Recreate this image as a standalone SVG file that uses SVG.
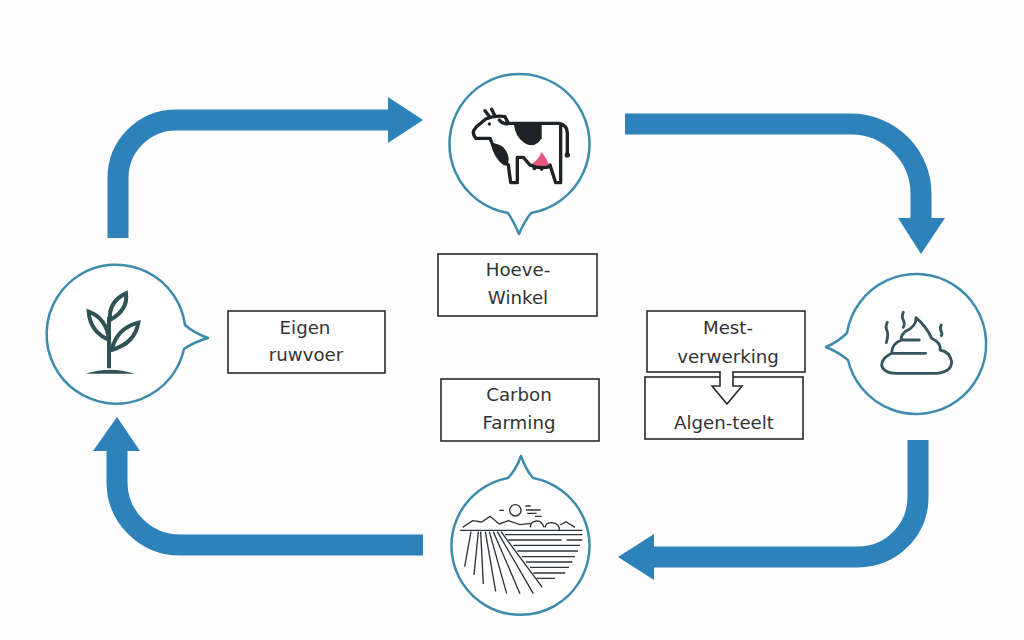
<svg xmlns="http://www.w3.org/2000/svg" width="1024" height="640" viewBox="0 0 1024 640">
<style>
.flow{fill:none;stroke:#2d82ba;stroke-width:21}
.head{fill:#2d82ba}
.bubble{fill:#fff;stroke:#3d8cab;stroke-width:2.5;stroke-linejoin:round}
.box{fill:#fff;stroke:#2a2a2a;stroke-width:1.6}
.t{font-family:"DejaVu Sans",Verdana,sans-serif;font-size:18.2px;fill:#333;text-anchor:middle}
.ink{fill:none;stroke:#1d2226;stroke-width:10;stroke-linejoin:round;stroke-linecap:round}
.line{fill:none;stroke:#2d3338;stroke-width:4;stroke-linecap:butt}
.plant{fill:none;stroke:#2f5355;stroke-width:12;stroke-linejoin:miter}
.poop{fill:none;stroke:#34565c;stroke-width:8.5;stroke-linecap:round;stroke-linejoin:round}
</style>
<rect width="1024" height="640" fill="#fdfdfd"/>
<g id="connectors">
<path class="flow" d="M118,238V178A58,58 0 0 1 176,120H390"/>
<polygon class="head" points="388,97 423,120 388,143"/>
<path class="flow" d="M625,124H851A70,70 0 0 1 921,194V220"/>
<polygon class="head" points="898,218 945,218 921,254"/>
<path class="flow" d="M918,440V497A60,60 0 0 1 858,557H652"/>
<polygon class="head" points="654,534 654,580 618,557"/>
<path class="flow" d="M423,545H180A63,63 0 0 1 117,482V450"/>
<polygon class="head" points="93,451 140,451 117,417"/>
</g>
<g id="node-cow">
<path class="bubble" d="M508,213A70,70 0 1 1 531,213Q524,222 519,234Q514,222 508,213Z"/>
<g transform="translate(440,70) scale(.3333)">
<path d="M222,165H305V205Q285,238 252,218Q226,200 222,165Z" fill="#1d2226"/>
<path d="M152,218Q200,222 206,265Q206,292 190,285Q160,262 152,218Z" fill="#1d2226"/>
<path d="M270,285Q298,268 305,245Q320,265 330,290Q300,298 270,285Z" fill="#e4587e"/>
<path class="ink" d="M205,160H358Q382,165 382,190V250M362,165V338H347L330,285M330,290Q300,298 270,285L250,262H232V338H212L205,285Q165,250 150,205H108Q92,188 108,172L137,147Q165,135 195,140L205,160Q190,165 178,150M135,122L150,142M155,118L165,138"/>
<circle cx="382" cy="255" r="8" fill="#1d2226"/>
<circle cx="148" cy="162" r="5" fill="#1d2226"/>
<path class="ink" d="M283,290V296M305,292V298" stroke-width="6"/>
</g>
</g>
<g id="node-plant">
<path class="bubble" d="M185,325A69.5,69.5 0 1 0 184,349Q194,342 208,338Q194,333 185,325Z"/>
<g transform="translate(40,260) scale(.3333)">
<path class="plant" d="M207,325V170M207,240Q150,215 146,155Q200,175 207,240ZM210,180Q205,125 258,100Q265,150 210,180ZM215,270Q230,205 295,188Q285,250 215,270Z"/>
<path d="M137,341Q210,318 283,341Z" fill="#2f5355"/>
</g>
</g>
<g id="node-poop">
<path class="bubble" d="M847,333A70,70 0 1 1 848,360Q838,352 826,347Q838,342 847,333Z"/>
<g transform="translate(640,270) scale(.3333)">
<path class="poop" d="M770,310H890Q935,305 935,275Q930,245 900,240Q905,220 875,205Q860,170 828,143Q830,170 795,185Q780,200 785,210Q755,220 755,250Q725,265 725,285Q730,310 770,310ZM755,250H857M785,210H838"/>
<path class="poop" d="M742,157Q735,170 741,182Q746,195 739,218M790,127Q784,140 790,150Q796,160 790,172M904,165Q898,175 904,185Q908,192 904,197"/>
</g>
</g>
<g id="node-field">
<path class="bubble" d="M508,478Q516,470 521,456Q526,470 533,478A69,69 0 1 1 508,478Z"/>
<g transform="translate(440,450) scale(.3333)">
<circle cx="226" cy="181" r="17" fill="none" stroke="#2d3338" stroke-width="4"/>
<path class="line" d="M178,181H192M256,168H272M258,180H302M262,190H290M285,199H305M60,241H427M195,254H427M205,270H365M380,270H427M220,286H420M232,303H414M245,320H405M258,336H397M270,352H387M280,369H376M290,385H345"/>
<path class="line" d="M68,232L98,212L125,216L150,199L178,222L205,212L240,224L272,220M272,232Q270,215 290,213Q305,212 312,232M315,232Q318,218 335,218Q360,220 358,241M360,225L378,215L405,232"/>
<path class="line" d="M93,245L74,350M115,245L102,375M122,245L130,402M136,245L167,424M148,245L200,431M160,245L240,431M172,245L280,431M183,245L307,412"/>
</g>
</g>
<g id="node-hoeve"><rect class="box" x="438" y="254" width="159" height="62"/><text class="t" x="518" y="276">Hoeve-</text><text class="t" x="518" y="304">Winkel</text></g>
<g id="node-eigen"><rect class="box" x="228" y="311" width="157" height="62"/><text class="t" x="305" y="334">Eigen</text><text class="t" x="306" y="361">ruwvoer</text></g>
<g id="node-carbon"><rect class="box" x="441" y="379" width="158" height="62"/><text class="t" x="519" y="401">Carbon</text><text class="t" x="519" y="429">Farming</text></g>
<g id="node-algen"><rect class="box" x="645" y="377" width="158" height="62"/><text class="t" x="724" y="429">Algen-teelt</text></g>
<g id="node-mest"><rect class="box" x="647" y="311" width="158" height="61"/><text class="t" x="728" y="334">Mest-</text><text class="t" x="728" y="363">verwerking</text></g>
<g id="connector-open"><polygon points="720,372 733,372 733,386 742,386 727,404 712,386 720,386" fill="#fff" stroke="#2a2a2a" stroke-width="1.6"/><path d="M720.8,372H732.2" stroke="#fff" stroke-width="2.4"/></g>
</svg>
